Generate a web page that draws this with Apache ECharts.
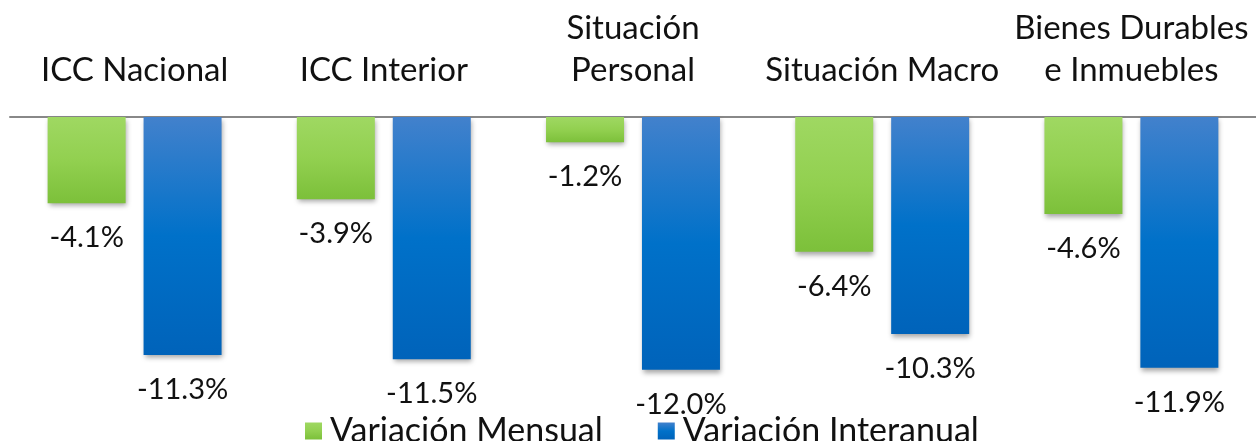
<!DOCTYPE html>
<html>
<head>
<meta charset="utf-8">
<script src="https://cdn.jsdelivr.net/npm/echarts@6/dist/echarts.min.js"></script>
<style>
html,body{margin:0;padding:0;background:#fff;}
#chart{width:1256px;height:441px;}
</style>
</head>
<body>
<div id="chart"></div>
<script>
const categories = ['ICC Nacional', 'ICC Interior', 'Situación\nPersonal', 'Situación Macro', 'Bienes Durables\ne Inmuebles'];
const seriesNames = ['Variación Mensual', 'Variación Interanual'];
const mensual = [-4.1, -3.9, -1.2, -6.4, -4.6];
const interanual = [-11.3, -11.5, -12.0, -10.3, -11.9];

const FONT = 'Lato';
const chart = echarts.init(document.getElementById('chart'));

function grad(top, mid, bottom) {
  return new echarts.graphic.LinearGradient(0, 0, 0, 1, [
    {offset: 0, color: top}, {offset: 0.5, color: mid}, {offset: 1, color: bottom}
  ]);
}
const shadow = {shadowColor: 'rgba(0,0,0,0.35)', shadowBlur: 5, shadowOffsetX: 1, shadowOffsetY: 3};
const labelCfg = {
  show: true, position: 'bottom', distance: 20,
  color: '#111', fontFamily: FONT, fontSize: 29,
  formatter: p => p.value.toFixed(1) + '%'
};

chart.setOption({
  animation: false,
  textStyle: {fontFamily: FONT},
  grid: {left: 10, right: -2, top: 117, bottom: 8, containLabel: false},
  legend: {
    data: seriesNames, left: 300, top: 409, itemGap: 55,
    itemWidth: 17, itemHeight: 17, icon: 'rect',
    textStyle: {fontFamily: FONT, fontSize: 34, color: '#111', padding: [0, 0, 0, 3]}
  },
  xAxis: {
    type: 'category', position: 'top', data: categories,
    axisLine: {show: true, lineStyle: {color: '#888', width: 2}},
    axisTick: {show: false},
    axisLabel: {interval: 0, color: '#111', fontFamily: FONT, fontSize: 33, lineHeight: 42, margin: 26}
  },
  yAxis: {
    type: 'value', min: -15, max: 0, show: false, splitLine: {show: false}
  },
  series: [
    {
      name: seriesNames[0], type: 'bar', data: mensual, barWidth: 78, barGap: '23%',
      itemStyle: Object.assign({color: grad('#9fd862', '#92d050', '#7cc03a')}, shadow),
      label: labelCfg
    },
    {
      name: seriesNames[1], type: 'bar', data: interanual, barWidth: 78,
      itemStyle: Object.assign({color: grad('#4281cc', '#0071c9', '#0063ba')}, shadow),
      label: labelCfg
    }
  ]
});
</script>
</body>
</html>
